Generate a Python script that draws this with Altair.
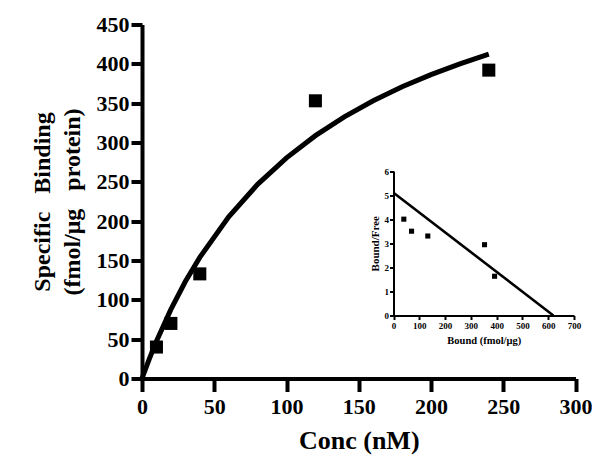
import altair as alt
import pandas as pd

# ---- data ----
conc_nM = [10, 20, 40, 120, 240]
specific_binding = [40, 70, 133, 353, 392]

curve_conc = [0, 5, 10, 20, 30, 40, 60, 80, 100, 120, 140, 160, 180, 200, 220, 240]
curve_binding = [0, 24.6, 47.3, 87.9, 123.2, 154.0, 205.5, 246.8, 280.5, 308.7,
                 332.6, 353.0, 370.8, 386.3, 400.0, 412.2]

scatchard_bound = [40, 70, 133, 353, 392]
scatchard_ratio = [4.0, 3.5, 3.3, 2.94, 1.63]

fit_bound = [0, 620]
fit_ratio = [5.1, 0]

main_x_ticks = [0, 50, 100, 150, 200, 250, 300]
main_y_ticks = [0, 50, 100, 150, 200, 250, 300, 350, 400, 450]
inset_x_ticks = [0, 100, 200, 300, 400, 500, 600, 700]
inset_y_ticks = [0, 1, 2, 3, 4, 5, 6]

SERIF = "Liberation Serif"
NB = "\u00a0"

pts_df = pd.DataFrame({"conc": conc_nM, "bind": specific_binding})
curve_df = pd.DataFrame({"conc": curve_conc, "bind": curve_binding})
sc_df = pd.DataFrame({"bound": scatchard_bound, "ratio": scatchard_ratio})
fit_df = pd.DataFrame({"bound": fit_bound, "ratio": fit_ratio})

W, H = 433.5, 354

x_main = alt.X(
    "conc:Q",
    scale=alt.Scale(domain=[0, 300], nice=False, zero=True),
    axis=alt.Axis(
        values=main_x_ticks, format="d", title="Conc (nM)", orient="bottom", grid=False,
        domainWidth=4, domainColor="black", tickWidth=4, tickSize=13, tickColor="black",
        labelFont=SERIF, labelFontSize=22, labelFontWeight="bold", labelColor="black",
        labelPadding=5, labelFlush=False, labelOverlap=False,
        titleFont=SERIF, titleFontSize=26, titleFontWeight="bold", titleColor="black",
        titlePadding=10,
    ),
)
y_main = alt.Y(
    "bind:Q",
    scale=alt.Scale(domain=[0, 450], nice=False, zero=True),
    axis=alt.Axis(
        values=main_y_ticks, format="d",
        title=["Specific" + NB * 3 + "Binding", "(fmol/μg" + NB * 3 + "protein)"],
        orient="left", grid=False,
        domainWidth=4, domainColor="black", tickWidth=4, tickSize=11, tickColor="black",
        labelFont=SERIF, labelFontSize=22, labelFontWeight="bold", labelColor="black",
        labelPadding=2, labelFlush=False, labelOverlap=False,
        titleFont=SERIF, titleFontSize=24, titleFontWeight="bold", titleColor="black",
        titleLineHeight=30, titlePadding=12,
    ),
)

curve = alt.Chart(curve_df).mark_line(color="black", strokeWidth=5).encode(
    x=x_main, y=y_main
)
points = alt.Chart(pts_df).mark_square(color="black", size=170, opacity=1).encode(
    x=x_main, y=y_main
)
main = alt.layer(curve, points)

x_in = alt.X(
    "bound:Q",
    scale=alt.Scale(domain=[0, 700], range=[251.5, 432], nice=False),
    axis=alt.Axis(
        values=inset_x_ticks, format="d", title="Bound (fmol/μg)", orient="bottom",
        offset=-63, grid=False, domainWidth=2, domainColor="black", tickWidth=2,
        tickSize=4, tickColor="black", labelFont=SERIF, labelFontSize=9,
        labelFontWeight="bold", labelColor="black", labelPadding=2, labelFlush=False,
        labelOverlap=False,
        titleFont=SERIF, titleFontSize=10.5, titleFontWeight="bold", titleColor="black",
        titlePadding=5,
    ),
)
y_in = alt.Y(
    "ratio:Q",
    scale=alt.Scale(domain=[0, 6], range=[291, 146.5], nice=False),
    axis=alt.Axis(
        values=inset_y_ticks, format="d", title="Bound/Free", orient="left",
        offset=-251.5, grid=False, domainWidth=2, domainColor="black", tickWidth=2,
        tickSize=4, tickColor="black", labelFont=SERIF, labelFontSize=9,
        labelFontWeight="bold", labelColor="black", labelPadding=1, labelFlush=False,
        labelOverlap=False,
        titleFont=SERIF, titleFontSize=11, titleFontWeight="bold", titleColor="black",
        titlePadding=4,
    ),
)

fit_line = alt.Chart(fit_df).mark_line(color="black", strokeWidth=2.6).encode(
    x=x_in, y=y_in
)
sc_points = alt.Chart(sc_df).mark_square(color="black", size=26, opacity=1).encode(
    x=x_in, y=y_in
)
inset = alt.layer(fit_line, sc_points)

chart = (
    alt.layer(main, inset)
    .resolve_scale(x="independent", y="independent")
    .properties(
        width=W, height=H,
        autosize=alt.AutoSizeParams(type="none"),
        padding={"left": 134, "top": 16.5, "right": 16, "bottom": 80},
        background="white",
    )
    .configure_view(stroke=None)
)

chart.save("out.html", embed_options={"renderer": "svg", "actions": False})
